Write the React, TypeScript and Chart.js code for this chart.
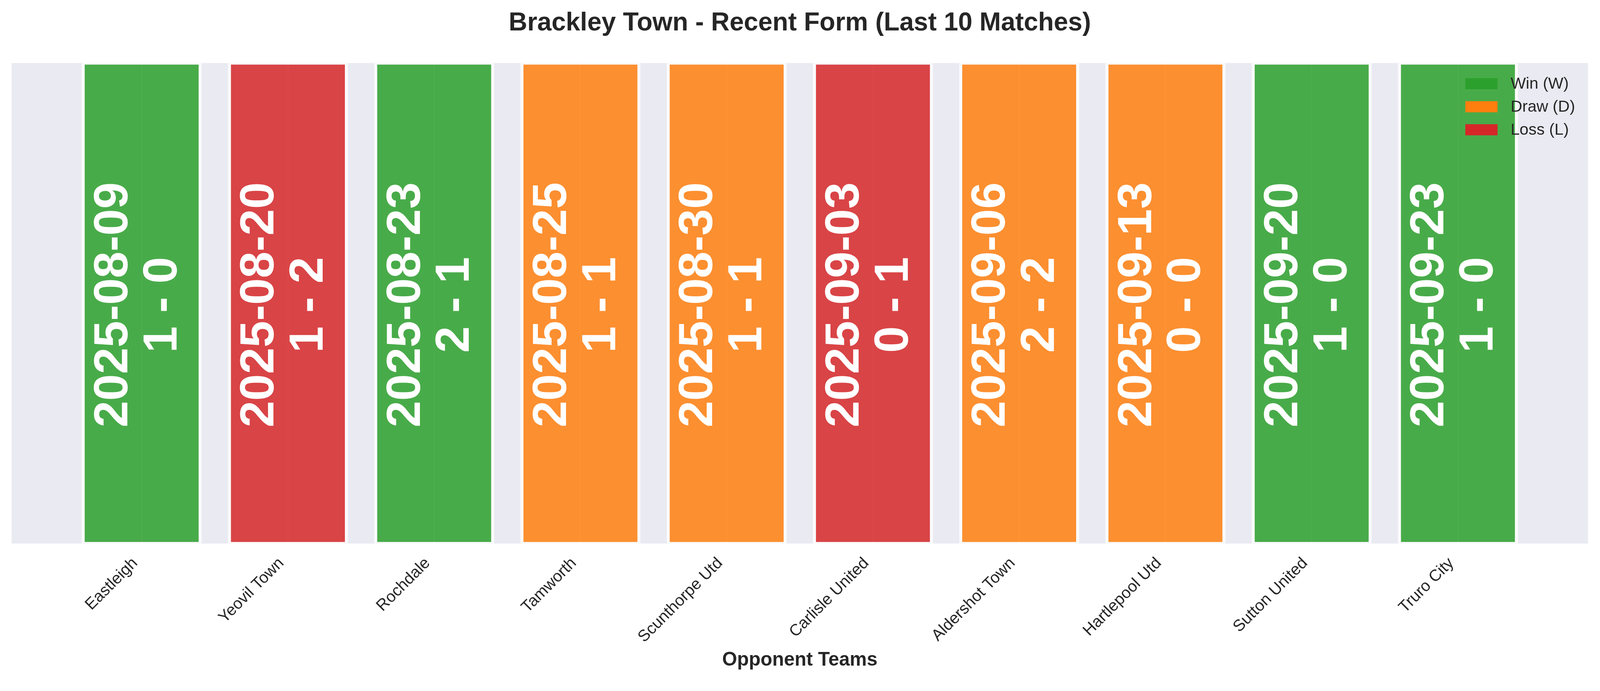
import { useEffect, useRef } from 'react';
import { Chart, registerables, type ChartConfiguration, type Plugin } from 'chart.js';

Chart.register(...registerables);

// Match data (oldest -> newest)
const opponents = [
  'Eastleigh',
  'Yeovil Town',
  'Rochdale',
  'Tamworth',
  'Scunthorpe Utd',
  'Carlisle United',
  'Aldershot Town',
  'Hartlepool Utd',
  'Sutton United',
  'Truro City',
];
const matchDates = [
  '2025-08-09',
  '2025-08-20',
  '2025-08-23',
  '2025-08-25',
  '2025-08-30',
  '2025-09-03',
  '2025-09-06',
  '2025-09-13',
  '2025-09-20',
  '2025-09-23',
];
const scores = ['1 - 0', '1 - 2', '2 - 1', '1 - 1', '1 - 1', '0 - 1', '2 - 2', '0 - 0', '1 - 0', '1 - 0'];
const results = ['W', 'L', 'W', 'D', 'D', 'L', 'D', 'D', 'W', 'W'];
const barValues = [1, 1, 1, 1, 1, 1, 1, 1, 1, 1];
const xPositions = [0, 1, 2, 3, 4, 5, 6, 7, 8, 9];

const legendKeys = ['W', 'D', 'L'];
const legendLabels = ['Win (W)', 'Draw (D)', 'Loss (L)'];

const RESULT_COLORS: Record<string, string> = {
  W: '#2ca02c', // green
  D: '#ff7f0e', // orange
  L: '#d62728', // red
};

const FONT = '"Liberation Sans", Arial, Helvetica, sans-serif';
const TEXT_COLOR = '#262626';
const PLOT_BG = '#eaeaf2';

function withAlpha(hex: string, alpha: number) {
  const n = parseInt(hex.slice(1), 16);
  return `rgba(${(n >> 16) & 255}, ${(n >> 8) & 255}, ${n & 255}, ${alpha})`;
}

export default function App() {
  const canvasRef = useRef<HTMLCanvasElement>(null);
  const chartRef = useRef<Chart | null>(null);

  // everything below was measured on a 4170 x 1770 picture
  const W = window.innerWidth || 4170;
  const s = W / 4170;
  const H = Math.round(1770 * s);

  useEffect(() => {
    document.body.style.margin = '0';
    if (!canvasRef.current) return;

    if (chartRef.current) {
      chartRef.current.destroy();
    }

    // white page + grey plot area
    const backgroundPlugin: Plugin = {
      id: 'background',
      beforeDraw(chart) {
        const { ctx, chartArea } = chart;
        ctx.save();
        ctx.fillStyle = '#ffffff';
        ctx.fillRect(0, 0, chart.width, chart.height);
        ctx.fillStyle = PLOT_BG;
        ctx.fillRect(chartArea.left, chartArea.top, chartArea.right - chartArea.left, chartArea.bottom - chartArea.top);
        ctx.restore();
      },
    };

    // date + score written vertically inside every bar
    const barTextPlugin: Plugin = {
      id: 'barText',
      afterDatasetsDraw(chart) {
        const { ctx } = chart;
        const meta = chart.getDatasetMeta(0);
        const yMid = chart.scales.y.getPixelForValue(0.5) + 4 * s;
        ctx.save();
        ctx.fillStyle = '#ffffff';
        ctx.font = `bold ${125 * s}px ${FONT}`;
        ctx.textAlign = 'center';
        ctx.textBaseline = 'middle';
        meta.data.forEach((bar, i) => {
          ctx.save();
          ctx.translate(bar.x + 3 * s, yMid);
          ctx.rotate(-Math.PI / 2);
          ctx.fillText(matchDates[i], 0, -75 * s);
          ctx.fillText(scores[i], 0, 53 * s);
          ctx.restore();
        });
        ctx.restore();
      },
    };

    // legend in the upper right corner of the plot, no frame
    const legendPlugin: Plugin = {
      id: 'innerLegend',
      afterDraw(chart) {
        const { ctx, chartArea } = chart;
        const boxLeft = chartArea.right - 320 * s;
        const boxW = 84 * s;
        const boxH = 29 * s;
        ctx.save();
        ctx.font = `${42 * s}px ${FONT}`;
        ctx.textAlign = 'left';
        ctx.textBaseline = 'middle';
        legendKeys.forEach((key, i) => {
          const cy = chartArea.top + (54 + i * 60) * s;
          ctx.fillStyle = RESULT_COLORS[key];
          ctx.fillRect(boxLeft, cy - boxH / 2, boxW, boxH);
          ctx.fillStyle = TEXT_COLOR;
          ctx.fillText(legendLabels[i], boxLeft + 118 * s, cy + 1 * s);
        });
        ctx.restore();
      },
    };

    const config: ChartConfiguration = {
      type: 'bar',
      data: {
        datasets: [
          {
            label: 'Result',
            data: barValues.map((v, i) => ({ x: xPositions[i], y: v })),
            backgroundColor: results.map((r) => withAlpha(RESULT_COLORS[r], 0.85)),
            borderColor: 'rgba(255, 255, 255, 0.8)',
            borderWidth: { left: 8 * s, right: 8 * s, top: 4 * s, bottom: 4 * s },
            borderSkipped: false,
            barPercentage: 0.821,
            categoryPercentage: 1,
          },
        ],
      },
      options: {
        responsive: false,
        animation: false,
        layout: {
          padding: { left: 30 * s, right: 31 * s, top: 0, bottom: 18 * s },
        },
        plugins: {
          legend: { display: false },
          tooltip: { enabled: false },
          title: {
            display: true,
            text: 'Brackley Town - Recent Form (Last 10 Matches)',
            color: TEXT_COLOR,
            font: { family: FONT, size: 67 * s, weight: 'bold' },
            padding: { top: 21 * s, bottom: 63 * s },
          },
        },
        scales: {
          x: {
            type: 'linear',
            offset: false,
            min: -0.89,
            max: 9.89,
            afterBuildTicks: (axis) => {
              axis.ticks = xPositions.map((v) => ({ value: v }));
            },
            ticks: {
              autoSkip: false,
              minRotation: 45,
              maxRotation: 45,
              padding: 27 * s,
              labelOffset: -17 * s,
              color: TEXT_COLOR,
              font: { family: FONT, size: 42 * s },
              callback: (value) => opponents[Math.round(Number(value))] ?? '',
            },
            grid: {
              offset: false,
              color: '#ffffff',
              lineWidth: 3 * s,
              drawTicks: false,
            },
            border: { display: false },
            title: {
              display: true,
              text: 'Opponent Teams',
              color: TEXT_COLOR,
              font: { family: FONT, size: 50 * s, weight: 'bold' },
              // the rotated labels reserve more room than they use
              padding: { top: -21 * s, bottom: 0 },
            },
          },
          y: {
            min: 0,
            max: 1,
            display: false,
          },
        },
      },
      plugins: [backgroundPlugin, barTextPlugin, legendPlugin],
    };

    chartRef.current = new Chart(canvasRef.current, config);

    return () => {
      if (chartRef.current) {
        chartRef.current.destroy();
        chartRef.current = null;
      }
    };
  }, []);

  return (
    <div style={{ width: `${W}px`, height: `${H}px` }}>
      <canvas ref={canvasRef} width={W} height={H} style={{ display: 'block' }} />
    </div>
  );
}
